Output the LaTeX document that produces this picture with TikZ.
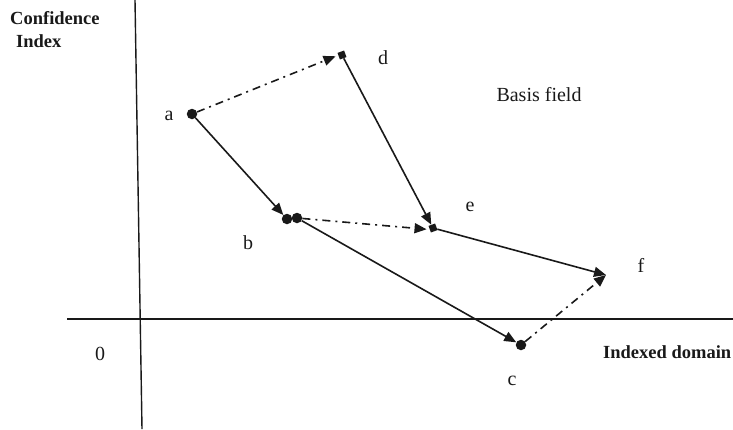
\documentclass[tikz,border=0pt]{standalone}
\usepackage{fontspec}
\setmainfont{Liberation Serif}
\usetikzlibrary{arrows.meta}
\begin{document}
\begin{tikzpicture}[x=1pt,y=-1pt,
  dotpt/.style={circle,fill=black!90,inner sep=0pt,minimum size=10.5pt},
  sqpt/.style={rectangle,fill=black!90,inner sep=0pt,minimum size=7pt,rotate=20},
  conn/.style={line width=1.6pt,draw=black!90,-{Triangle[length=12pt,width=10pt]}},
  dd/.style={conn,dash pattern=on 8pt off 5pt on 2pt off 5pt},
  lab/.style={font=\fontsize{20}{24}\selectfont,inner sep=0pt,text=black!90},
  blab/.style={font=\fontsize{18.5}{22}\selectfont\bfseries,inner sep=0pt,text=black!90}]
\useasboundingbox (0,0) rectangle (733,429);
% axes
\coordinate (yt) at (135,0);
\coordinate (yb) at (142,429);
\coordinate (xl) at (67,319);
\coordinate (xr) at (733,319);
\draw[line width=1.4pt,black!90] (yt) -- (yb);
\draw[line width=1.4pt,black!90] (xl) -- (xr);
% points
\node[dotpt] (a) at (192,114) {};
\node[dotpt] (b1) at (287,219) {};
\node[dotpt] (b2) at (297,218) {};
\node[sqpt] (d) at (342,55) {};
\node[sqpt] (e) at (433,228) {};
\coordinate (f) at (606,275);
\node[dotpt] (c) at (521,345) {};
% connectors
\draw[conn] (a) -- (b1);
\draw[dd] (a) -- ([xshift=-3pt]d.west);
\draw[conn] (d) -- (e);
\draw[dd] (b2) -- ([xshift=-3pt]e.west);
\draw[conn] (b2) -- (c);
\draw[conn] (e) -- (f);
\draw[dd] (c) -- (f);
% labels
\node[lab] (la) at (169,116) {a};
\node[lab] (ld) at (383,58) {d};
\node[lab] (lb) at (248,243) {b};
\node[lab] (le) at (470,207) {e};
\node[lab] (lf) at (641,265) {f};
\node[lab] (lc) at (512,381) {c};
\node[lab] (l0) at (100,354) {0};
\node[lab] (basis) at (539,95) {Basis field};
\node[blab,anchor=west] (idx) at (603,352) {Indexed domain};
\node[blab,anchor=west] (conf) at (10,18) {Confidence};
\node[blab,anchor=west] (ci) at (16,41) {Index};
\end{tikzpicture}
\end{document}
